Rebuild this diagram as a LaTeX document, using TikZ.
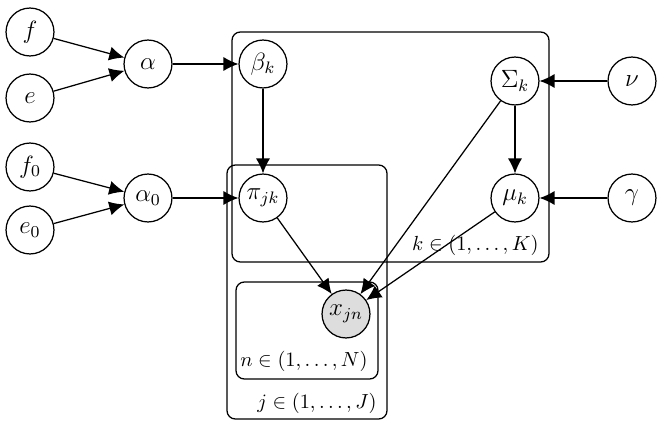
\documentclass[tikz,border=0pt]{standalone}
\usetikzlibrary{arrows.meta}
\begin{document}
\begin{tikzpicture}[x=0.48pt,y=-0.48pt,
  var/.style={circle,draw,line width=0.6pt,minimum size=23pt,inner sep=0pt,font=\large},
  obs/.style={var,fill=gray!27},
  edge/.style={-{Latex[length=7.2pt,width=6.8pt]},line width=0.6pt},
  plate/.style={draw,line width=0.6pt,rounded corners=4pt},
  platelabel/.style={anchor=east,inner sep=0pt,scale=0.98}]
\useasboundingbox (0,0) rectangle (664,428);
% plates
\draw[plate] (232,32) rectangle (549,262);
\draw[plate] (227,165) rectangle (387,419);
\draw[plate] (236,282) rectangle (378,379);
\node[platelabel] (klab) at (539,245) {$k\in(1,\ldots,K)$};
\node[platelabel] (nlab) at (368,361) {$n\in(1,\ldots,N)$};
\node[platelabel] (jlab) at (377,403) {$j\in(1,\ldots,J)$};
% nodes
\node[var] (f) at (30,32) {$f$};
\node[var] (e) at (30,98) {$e$};
\node[var] (alpha) at (148,64) {$\alpha$};
\node[var] (f0) at (30,167) {$f_0$};
\node[var] (e0) at (30,230) {$e_0$};
\node[var] (alpha0) at (148,198) {$\alpha_0$};
\node[var] (beta) at (263,64) {$\beta_k$};
\node[var] (pi) at (263,198) {$\pi_{jk}$};
\node[var] (Sigma) at (515,81) {$\Sigma_k$};
\node[var] (mu) at (515,198) {$\mu_k$};
\node[var] (nu) at (632,81) {$\nu$};
\node[var] (gamma) at (632,198) {$\gamma$};
\node[obs] (x) at (346,314) {$x_{jn}$};
% edges
\draw[edge] (f) -- (alpha);
\draw[edge] (e) -- (alpha);
\draw[edge] (f0) -- (alpha0);
\draw[edge] (e0) -- (alpha0);
\draw[edge] (alpha) -- (beta);
\draw[edge] (alpha0) -- (pi);
\draw[edge] (beta) -- (pi);
\draw[edge] (nu) -- (Sigma);
\draw[edge] (gamma) -- (mu);
\draw[edge] (Sigma) -- (mu);
\draw[edge] (pi) -- (x);
\draw[edge] (Sigma) -- (x);
\draw[edge] (mu) -- (x);
\end{tikzpicture}
\end{document}
